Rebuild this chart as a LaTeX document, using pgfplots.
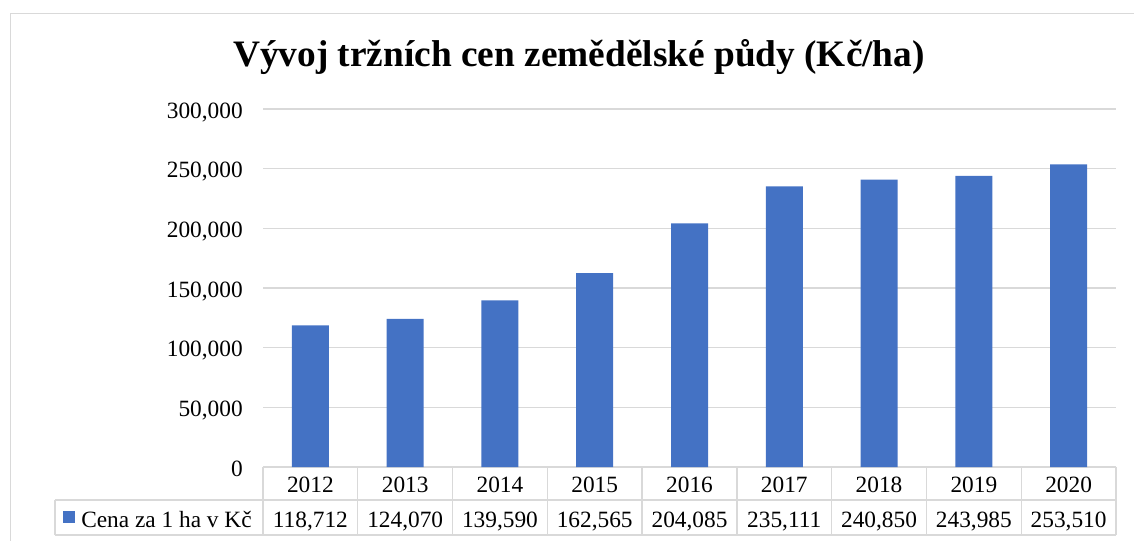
\documentclass[border=0pt]{standalone}
\usepackage{fontspec}
\setmainfont{Liberation Serif}
\usepackage{pgfplots}
\pgfplotsset{compat=1.18}
\definecolor{barblue}{HTML}{4472C4}
\definecolor{gridgray}{HTML}{D9D9D9}
\newcommand{\tickfont}{\fontsize{17.5}{21}\selectfont}
\begin{document}
\begin{tikzpicture}
\begin{scope}[x=0.75pt,y=-0.75pt]
\useasboundingbox (0,0) rectangle (1134,541);
\draw[gridgray, line width=1.2pt] (10.5,700) -- (10.5,13.5) -- (1300,13.5);
\end{scope}
\begin{axis}[
  at={(197.25pt,-350.25pt)}, anchor=south west,
  scale only axis, width=639.75pt, height=268.5pt,
  xmin=-0.5, xmax=8.5, ymin=0, ymax=300000,
  ytick={0,50000,...,300000},
  ymajorgrids, grid style={gridgray, line width=1pt},
  axis line style={draw=none},
  major tick length=0pt,
  clip=false,
  scaled y ticks=false,
  yticklabel={\pgfmathprintnumber{\tick}},
  yticklabel style={/pgf/number format/fixed, /pgf/number format/1000 sep={,},
    /pgf/number format/assume math mode=true,
    font=\tickfont, anchor=base east, inner sep=0pt, xshift=-15pt, yshift=-6.75pt},
  xtick={0,...,8},
  xticklabels={2012,2013,2014,2015,2016,2017,2018,2019,2020},
  xticklabel style={font=\tickfont, anchor=base, inner sep=0pt, yshift=-18.75pt},
  extra x ticks={0,...,8},
  extra x tick labels={{118,712},{124,070},{139,590},{162,565},{204,085},{235,111},{240,850},{243,985},{253,510}},
  extra x tick style={grid=none, xticklabel style={yshift=-26.25pt}},
]
\addplot[ybar, bar width=27.75pt, fill=barblue, draw=none] coordinates {
  (0,118712) (1,124070) (2,139590) (3,162565) (4,204085)
  (5,235111) (6,240850) (7,243985) (8,253510)};
\end{axis}
\begin{scope}[x=0.75pt,y=-0.75pt]
\begin{scope}[gridgray, line width=1pt]
\draw (55,500) -- (1116,500);
\draw (55,535) -- (1116,535);
\draw (55,500) -- (55,535);
\foreach \i in {0,...,9} \draw ({263+94.778*\i},467) -- ({263+94.778*\i},535);
\end{scope}
\fill[barblue] (63,510.5) rectangle (75,522.5);
\node[anchor=base west, inner sep=0pt, font=\tickfont] at (81,527) {Cena za 1 ha v Kč};
\node[anchor=base, inner sep=0pt, font=\bfseries\fontsize{28}{34}\selectfont] at (579,67) {Vývoj tržních cen zemědělské půdy (Kč/ha)};
\end{scope}
\end{tikzpicture}
\end{document}
